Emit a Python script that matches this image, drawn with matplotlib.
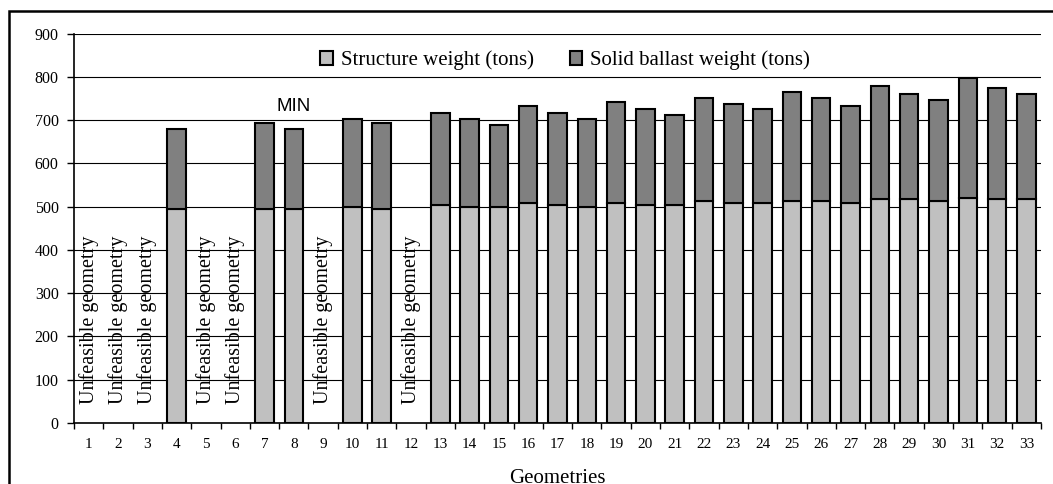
import matplotlib.pyplot as plt
import matplotlib.patches as patches
import numpy as np

plt.rcParams['font.family'] = ['Liberation Serif', 'DejaVu Serif']

geometries = list(range(1, 34))
nan = np.nan
# structure weight (tons), nan = unfeasible geometry
structure = [nan, nan, nan, 495, nan, nan, 495, 495, nan, 499, 495, nan,
             504, 500, 500, 509, 504, 500, 509, 504, 504, 513, 509, 509,
             513, 513, 509, 517, 517, 513, 520, 517, 517]
# solid ballast weight (tons)
ballast = [nan, nan, nan, 185, nan, nan, 198, 185, nan, 203, 198, nan,
           212, 202, 188, 224, 212, 202, 233, 221, 207, 238, 229, 216,
           252, 238, 224, 262, 243, 234, 277, 257, 243]
unfeasible = [1, 2, 3, 5, 6, 9, 12]
min_geometry = 8

fig = plt.figure(figsize=(10.53, 4.84), dpi=100)
ax = fig.add_axes([74/1053, 1-423/484, (1041-74)/1053, (423-33.7)/484])

x = np.array(geometries)
s = np.array(structure)
b = np.array(ballast)
w = 0.63
ax.bar(x, s, width=w, color='#c0c0c0', edgecolor='black', linewidth=1.5,
       label='Structure weight (tons)', zorder=3)
ax.bar(x, b, width=w, bottom=s, color='#808080', edgecolor='black', linewidth=1.5,
       label='Solid ballast weight (tons)', zorder=3)

for g in unfeasible:
    ax.text(g, 45, 'Unfeasible geometry', rotation=90, ha='center', va='bottom',
            fontsize=14.5, zorder=4)

ax.text(min_geometry, 712, 'MIN', ha='center', va='bottom', fontsize=13.5,
        family=['Liberation Sans', 'DejaVu Sans'])

ax.set_xlim(0.5, 33.5)
ax.set_ylim(0, 900)
ax.set_yticks(np.arange(0, 901, 100))
ax.yaxis.grid(True, color='black', linewidth=0.8, zorder=0)
ax.set_axisbelow(True)

ax.set_xticks(np.arange(0.5, 34, 1))
ax.set_xticklabels([])
ax.set_xticks(geometries, minor=True)
ax.set_xticklabels([str(g) for g in geometries], minor=True, fontsize=11)
ax.tick_params(axis='x', which='major', direction='out', length=4, width=1)
ax.tick_params(axis='x', which='minor', length=0, pad=11)
ax.tick_params(axis='y', direction='out', length=5, width=1, labelsize=11.5, pad=6)

for sp in ['top', 'right']:
    ax.spines[sp].set_visible(False)
ax.spines['left'].set_linewidth(1.2)
ax.spines['bottom'].set_linewidth(1.2)

ax.set_xlabel('Geometries', fontsize=15, labelpad=13)

leg = ax.legend(loc='upper center', bbox_to_anchor=(0.508, 1.005), ncol=2,
                frameon=False, fontsize=15, handlelength=0.6, handleheight=0.6,
                columnspacing=1.7, handletextpad=0.4)

fig.patches.append(patches.Rectangle((9/1053, -0.1), 1.2, 1.1 - 11/484,
                                     transform=fig.transFigure, fill=False,
                                     edgecolor='black', linewidth=1.8))

fig.savefig('out.png', dpi=100)
